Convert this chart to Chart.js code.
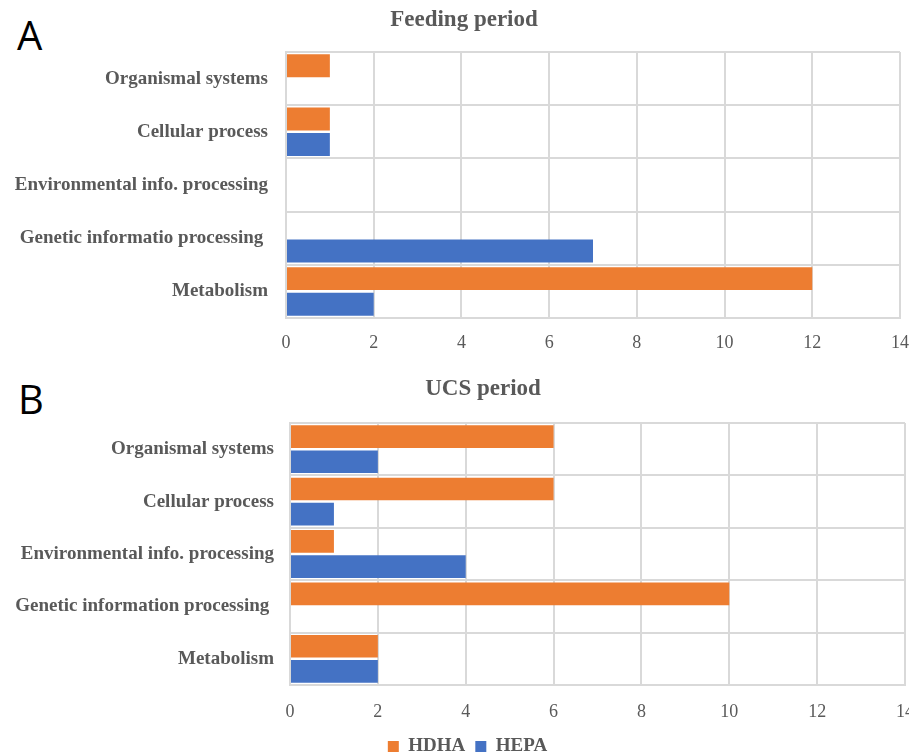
<!DOCTYPE html>
<html><head><meta charset="utf-8">
<script src="https://cdn.jsdelivr.net/npm/chart.js@4"></script>
<style>
html,body{margin:0;padding:0;background:#fff;overflow:hidden;width:909px;height:755px;}
canvas{position:absolute;left:0;}
.letter{position:absolute;font-family:"Open Sans",sans-serif;font-size:40px;color:#000;line-height:1;}
</style></head><body>
<div class="letter" style="left:17px;top:15px;">A</div>
<div class="letter" style="left:18px;top:379px;">B</div>
<canvas id="chartA" width="909" height="358" style="top:0px;"></canvas>
<canvas id="chartB" width="909" height="401" style="top:365px;"></canvas>
<script>
// ---- data ----
const categoriesFeeding = ['Organismal systems', 'Cellular process', 'Environmental info. processing', 'Genetic informatio processing ', 'Metabolism'];
const categoriesUCS = ['Organismal systems', 'Cellular process', 'Environmental info. processing', 'Genetic information processing ', 'Metabolism'];
const seriesNames = ['HDHA', 'HEPA'];
const feedingHDHA = [1, 1, 0, 0, 12];
const feedingHEPA = [0, 1, 0, 7, 2];
const ucsHDHA = [6, 6, 1, 10, 2];
const ucsHEPA = [2, 1, 4, 0, 2];
const xTickValues = [0, 2, 4, 6, 8, 10, 12, 14];
const titles = ['Feeding period', 'UCS period'];

const ORANGE = '#ED7D31', BLUE = '#4472C4', GRID = '#D9D9D9', TEXT = '#595959';
Chart.defaults.font.family = '"Liberation Serif", "Times New Roman", serif';
Chart.defaults.color = TEXT;

const shiftBoxes = {
  id: 'shiftBoxes',
  afterLayout(chart, args, opts) {
    const t = chart.titleBlock;
    if (t && opts.title) { t.left += opts.title; t.right += opts.title; }
    const l = chart.legend;
    if (l && opts.legend) { l.left += opts.legend; l.right += opts.legend; }
  }
};

function makeChart(id, cats, hdha, hepa, title, cfg) {
  return new Chart(document.getElementById(id), {
    type: 'bar',
    data: {
      labels: cats,
      datasets: [
        { label: seriesNames[0], data: hdha, backgroundColor: ORANGE, borderWidth: 0 },
        { label: seriesNames[1], data: hepa, backgroundColor: BLUE, borderWidth: 0 }
      ]
    },
    options: {
      indexAxis: 'y',
      responsive: false,
      animation: false,
      categoryPercentage: 0.96,
      barPercentage: 0.9,
      layout: { padding: { left: 0, right: cfg.rightPad, top: 0, bottom: 0 } },
      scales: {
        x: {
          min: xTickValues[0], max: xTickValues[xTickValues.length - 1],
          afterBuildTicks(scale) { scale.ticks = xTickValues.map(v => ({ value: v })); },
          grid: { color: GRID, lineWidth: 2, drawTicks: false },
          border: { color: GRID, width: 2 },
          ticks: { padding: cfg.xTickPad, font: { size: 18 }, color: TEXT },
          afterFit(scale) {
            scale.paddingLeft = 0; scale.paddingRight = 0;
            scale.height = cfg.xHeight;
          }
        },
        y: {
          grid: { color: GRID, lineWidth: 2, drawTicks: false, offset: true },
          border: { color: GRID, width: 2 },
          ticks: { padding: cfg.yPad, font: { size: 19, weight: 'bold' }, color: TEXT },
          afterFit(scale) {
            scale.width = cfg.yWidth; scale.paddingTop = 0; scale.paddingBottom = 0;
          }
        }
      },
      plugins: {
        title: {
          display: true, text: title, color: TEXT,
          font: { size: 23, weight: 'bold' },
          padding: cfg.titlePad
        },
        legend: {
          display: cfg.legend, position: 'bottom',
          labels: { boxWidth: 11, boxHeight: 11, padding: 10, color: TEXT, font: { size: 19, weight: 'bold' } }
        },
        tooltip: { enabled: false },
        shiftBoxes: { title: cfg.titleShift, legend: cfg.legendShift }
      }
    },
    plugins: [shiftBoxes]
  });
}

makeChart('chartA', categoriesFeeding, feedingHDHA, feedingHEPA, titles[0], {
  yWidth: 286, yPad: 18, rightPad: 9, titlePad: { top: 6.2, bottom: 18.2 },
  xTickPad: 14.7, xHeight: 40, legend: false, titleShift: 14, legendShift: 0
});
makeChart('chartB', categoriesUCS, ucsHDHA, ucsHEPA, titles[1], {
  yWidth: 290, yPad: 16, rightPad: 4, titlePad: { top: 10.2, bottom: 20.2 },
  xTickPad: 16, xHeight: 42, legend: true, titleShift: 30.5, legendShift: 15
});
</script>
</body></html>
